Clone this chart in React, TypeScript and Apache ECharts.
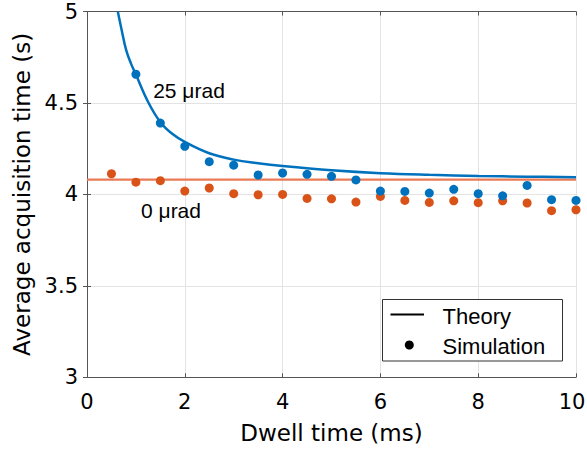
import React, { useEffect, useRef } from "react";
import * as echarts from "echarts";

const xTicks = [0, 2, 4, 6, 8, 10];
const yTicks = [3, 3.5, 4, 4.5, 5];

const simX25 = [1, 1.5, 2, 2.5, 3, 3.5, 4, 4.5, 5, 5.5, 6, 6.5, 7, 7.5, 8, 8.5, 9, 9.5, 10];
const sim25 = [4.657, 4.39, 4.263, 4.179, 4.16, 4.106, 4.117, 4.11, 4.099, 4.079, 4.018, 4.016, 4.007, 4.028, 4.004, 3.992, 4.049, 3.971, 3.967];

const simX0 = [0.5, 1, 1.5, 2, 2.5, 3, 3.5, 4, 4.5, 5, 5.5, 6, 6.5, 7, 7.5, 8, 8.5, 9, 9.5, 10];
const sim0 = [4.113, 4.067, 4.075, 4.018, 4.035, 4.004, 3.998, 4.0, 3.978, 3.976, 3.958, 3.989, 3.967, 3.956, 3.965, 3.955, 3.965, 3.953, 3.911, 3.916];

const theoryX25 = [0.63, 0.7, 0.8, 0.9, 1, 1.25, 1.5, 1.75, 2, 2.5, 3, 3.5, 4, 5, 6, 7, 8, 9, 10];
const theory25 = [5.0, 4.91, 4.79, 4.715, 4.655, 4.505, 4.395, 4.33, 4.287, 4.225, 4.19, 4.17, 4.155, 4.132, 4.116, 4.107, 4.101, 4.097, 4.094];

const theoryX0 = [0, 10];
const theory0 = [4.081, 4.081];

const labels = ["25 μrad", "0 μrad"];
const legendNames = ["Theory", "Simulation"];

const BLUE = "#0072BD";
const ORANGE = "#D95319";
const ORANGE_LINE = "#EA7A55";
const AXIS = "#555555";
const AXFONT = "DejaVu Sans";
const TXFONT = "Liberation Sans, Arial, sans-serif";

const zip = (xs: number[], ys: number[]) => xs.map((x, i) => [x, ys[i]]);

export default function App() {
  const ref = useRef<HTMLDivElement>(null);
  useEffect(() => {
    document.body.style.margin = "0";
    const chart = echarts.init(ref.current!, null, { renderer: "svg" });
    const mirrorAxis = {
      min: 0,
      max: 10,
      interval: 2,
      axisLine: { show: true, lineStyle: { color: AXIS, width: 1 } },
      axisTick: { show: true, inside: true, length: 4, lineStyle: { color: AXIS } },
      axisLabel: { show: false },
      splitLine: { show: false },
    };
    chart.setOption({
      animation: false,
      backgroundColor: "#ffffff",
      grid: { left: 87, right: 11, top: 11.5, bottom: 75.7, containLabel: false, outerBoundsMode: "none" },
      xAxis: [
        {
          type: "value",
          position: "bottom",
          min: xTicks[0],
          max: xTicks[xTicks.length - 1],
          interval: 2,
          name: "Dwell time (ms)",
          nameLocation: "middle",
          nameGap: 44,
          nameTextStyle: { fontFamily: AXFONT, fontSize: 23, color: "#000" },
          axisLine: { show: true, onZero: false, lineStyle: { color: AXIS, width: 1 } },
          axisTick: { show: true, inside: true, length: 4, lineStyle: { color: AXIS } },
          axisLabel: {
            fontFamily: AXFONT,
            fontSize: 21,
            color: "#000",
            margin: 14,
            formatter: (v: number) => (v === xTicks[xTicks.length - 1] ? "{r|" + v + "}" : String(v)),
            rich: { r: { fontFamily: AXFONT, fontSize: 21, color: "#000", padding: [0, 8, 0, 0] } },
          },
          splitLine: { show: true, lineStyle: { color: "#e3e3e3", width: 1 } },
        },
        { type: "value", position: "top", ...mirrorAxis },
      ],
      yAxis: [
        {
          type: "value",
          position: "left",
          min: yTicks[0],
          max: yTicks[yTicks.length - 1],
          interval: 0.5,
          name: "Average acquisition time (s)",
          nameLocation: "middle",
          nameRotate: 90,
          nameGap: 51,
          nameTextStyle: { fontFamily: AXFONT, fontSize: 23, color: "#000" },
          axisLine: { show: true, onZero: false, lineStyle: { color: AXIS, width: 1 } },
          axisTick: { show: true, inside: true, length: 4, lineStyle: { color: AXIS } },
          axisLabel: { fontFamily: AXFONT, fontSize: 21, color: "#000", margin: 9 },
          splitLine: { show: true, lineStyle: { color: "#e3e3e3", width: 1 } },
        },
        { type: "value", position: "right", ...mirrorAxis, min: 3, max: 5, interval: 0.5 },
      ],
      series: [
        {
          type: "line",
          data: zip(theoryX0, theory0),
          showSymbol: false,
          lineStyle: { color: ORANGE_LINE, width: 2.2 },
          z: 2,
        },
        {
          type: "line",
          data: zip(theoryX25, theory25),
          showSymbol: false,
          smooth: 0.4,
          lineStyle: { color: BLUE, width: 2.5 },
          z: 3,
        },
        {
          type: "scatter",
          data: zip(simX0, sim0),
          symbolSize: 9,
          itemStyle: { color: ORANGE, opacity: 1 },
          z: 4,
        },
        {
          type: "scatter",
          data: zip(simX25, sim25),
          symbolSize: 9,
          itemStyle: { color: BLUE, opacity: 1 },
          z: 5,
        },
      ],
      graphic: [
        {
          type: "text",
          x: 189,
          y: 90,
          style: { text: labels[0], fontFamily: TXFONT, fontSize: 21, fill: "#000", align: "center", verticalAlign: "middle" },
          z: 10,
        },
        {
          type: "text",
          x: 171,
          y: 210,
          style: { text: labels[1], fontFamily: TXFONT, fontSize: 21, fill: "#000", align: "center", verticalAlign: "middle" },
          z: 10,
        },
        {
          type: "rect",
          shape: { x: 382.5, y: 299.5, width: 180, height: 61.5 },
          style: { fill: "#ffffff", stroke: "#333333", lineWidth: 1 },
          z: 10,
        },
        {
          type: "line",
          shape: { x1: 390.5, y1: 314.5, x2: 424, y2: 314.5 },
          style: { stroke: "#000", lineWidth: 2 },
          z: 11,
        },
        {
          type: "circle",
          shape: { cx: 409.3, cy: 345, r: 4.5 },
          style: { fill: "#000" },
          z: 11,
        },
        {
          type: "text",
          x: 442.5,
          y: 316,
          style: { text: legendNames[0], fontFamily: TXFONT, fontSize: 22, fill: "#000", align: "left", verticalAlign: "middle" },
          z: 11,
        },
        {
          type: "text",
          x: 442.5,
          y: 346,
          style: { text: legendNames[1], fontFamily: TXFONT, fontSize: 22, fill: "#000", align: "left", verticalAlign: "middle" },
          z: 11,
        },
      ],
    });
    return () => chart.dispose();
  }, []);
  return <div ref={ref} style={{ width: 587, height: 453 }} />;
}
